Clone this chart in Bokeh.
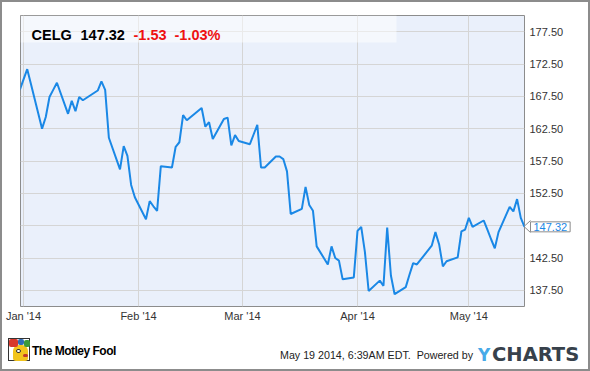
import pandas as pd
from bokeh.plotting import figure
from bokeh.layouts import column
from bokeh.models import (Range1d, FixedTicker, DatetimeTickFormatter, NumeralTickFormatter,
                          Label, BoxAnnotation, Div)
from bokeh.embed import file_html
from bokeh.resources import INLINE

# ---- data (CELG daily close) ----
dates = [
    "2013-12-31",
    "2014-01-02", "2014-01-03", "2014-01-06", "2014-01-07", "2014-01-08", "2014-01-09", "2014-01-10",
    "2014-01-13", "2014-01-14", "2014-01-15", "2014-01-16", "2014-01-17",
    "2014-01-21", "2014-01-22", "2014-01-23", "2014-01-24",
    "2014-01-27", "2014-01-28", "2014-01-29", "2014-01-30", "2014-01-31",
    "2014-02-03", "2014-02-04", "2014-02-05", "2014-02-06", "2014-02-07",
    "2014-02-10", "2014-02-11", "2014-02-12", "2014-02-13", "2014-02-14",
    "2014-02-18", "2014-02-19", "2014-02-20", "2014-02-21",
    "2014-02-24", "2014-02-25", "2014-02-26", "2014-02-27", "2014-02-28",
    "2014-03-03", "2014-03-04", "2014-03-05", "2014-03-06", "2014-03-07",
    "2014-03-10", "2014-03-11", "2014-03-12", "2014-03-13", "2014-03-14",
    "2014-03-17", "2014-03-18", "2014-03-19", "2014-03-20", "2014-03-21",
    "2014-03-24", "2014-03-25", "2014-03-26", "2014-03-27", "2014-03-28",
    "2014-03-31", "2014-04-01", "2014-04-02", "2014-04-03", "2014-04-04",
    "2014-04-07", "2014-04-08", "2014-04-09", "2014-04-10", "2014-04-11",
    "2014-04-14", "2014-04-15", "2014-04-16", "2014-04-17",
    "2014-04-21", "2014-04-22", "2014-04-23", "2014-04-24", "2014-04-25",
    "2014-04-28", "2014-04-29", "2014-04-30", "2014-05-01", "2014-05-02",
    "2014-05-05", "2014-05-06", "2014-05-07", "2014-05-08", "2014-05-09",
    "2014-05-12", "2014-05-13", "2014-05-14", "2014-05-15", "2014-05-16",
]
closes = [
    168.5,
    171.7, 169.4, 162.5, 164.3, 167.4, 168.5, 169.6,
    164.8, 166.8, 165.2, 167.4, 166.9,
    168.4, 169.8, 168.5, 161.1,
    156.2, 159.8, 158.3, 153.8, 151.9,
    148.5, 151.3, 150.5, 149.8, 156.7,
    156.5, 159.7, 160.4, 164.6, 163.8,
    165.7, 162.8, 163.5, 160.9,
    164.0, 164.2, 159.9, 161.5, 160.6,
    160.1, 161.6, 163.1, 156.5, 156.5,
    158.2, 158.2, 157.8, 155.9, 149.3,
    150.1, 153.5, 150.7, 149.8, 144.3,
    141.5, 144.3, 142.5, 142.1, 139.2,
    139.5, 146.7, 147.3, 143.4, 137.4,
    139.0, 138.2, 147.2, 139.8, 136.9,
    138.0, 139.9, 141.7, 141.5,
    144.4, 146.5, 144.6, 141.2, 142.0,
    142.6, 146.6, 146.9, 148.7, 147.3,
    148.3, 146.9, 145.4, 144.0, 146.5,
    150.4, 149.7, 151.6, 148.7, 147.32,
]
month_ticks = ["2014-01-01", "2014-02-01", "2014-03-01", "2014-04-01", "2014-05-01"]
price_ticks = [137.5, 142.5, 147.5, 152.5, 157.5, 162.5, 167.5, 172.5, 177.5]
ticker_name = "CELG"
last_price = "147.32"
change = "-1.53"
change_pct = "-1.03%"
stamp = "May 19 2014, 6:39AM EDT.&nbsp; Powered by"

x = pd.to_datetime(dates)
FONT = "Liberation Sans"
GREY = "#8c8c8c"

# small pointer of the last-price tag (drawn behind the transparent border area)
arrow_svg = ("url(\"data:image/svg+xml;utf8,<svg xmlns='http://www.w3.org/2000/svg' width='8' "
             "height='13'><polyline points='7.5,0.5 1,6.5 7.5,12.5' fill='white' "
             "stroke='%238c8c8c' stroke-width='1'/></svg>\")")

# ---------------- main chart ----------------
p = figure(width=590, height=330, x_axis_type="datetime",
           x_range=Range1d(pd.Timestamp("2013-12-31 04:30"), pd.Timestamp("2014-05-16")),
           y_range=Range1d(135, 180), y_axis_location="right",
           output_backend="svg", toolbar_location=None,
           min_border_left=20, min_border_right=66, min_border_top=15, min_border_bottom=24,
           styles={"background-color": "white",
                   "background-image": arrow_svg,
                   "background-repeat": "no-repeat",
                   "background-position": "523px 220px",
                   "box-shadow": f"inset 2px 0 0 0 {GREY}, inset -2px 0 0 0 {GREY}, "
                                 f"inset 0 2px 0 0 {GREY}"})

p.background_fill_color = "#eaf0fb"
p.border_fill_color = None
p.outline_line_color = GREY
p.outline_line_width = 1

tick_ms = [pd.Timestamp(t).timestamp() * 1000 for t in month_ticks]
xa = p.xaxis[0]
xa.ticker = FixedTicker(ticks=tick_ms)
fmt = "%b '%y"
xa.formatter = DatetimeTickFormatter(microseconds=fmt, milliseconds=fmt, seconds=fmt, minsec=fmt,
                                     minutes=fmt, hourmin=fmt, hours=fmt, days=fmt, months=fmt,
                                     years=fmt)
ya = p.yaxis[0]
ya.ticker = FixedTicker(ticks=price_ticks)
ya.formatter = NumeralTickFormatter(format="0.00")
ya.major_label_overrides = {147.5: ""}

for ax in (xa, ya):
    ax.axis_line_color = None
    ax.major_tick_line_color = None
    ax.minor_tick_line_color = None
    ax.major_tick_in = 0
    ax.major_tick_out = 0
    ax.minor_tick_in = 0
    ax.minor_tick_out = 0
    ax.major_label_text_font = FONT
    ax.major_label_text_font_size = "11px"
    ax.major_label_text_color = "#333333"
ya.major_label_standoff = 5
xa.major_label_standoff = 3

p.xgrid.grid_line_color = "#d5d5d5"
p.ygrid.grid_line_color = "#d5d5d5"

p.line(x, closes, line_color="#1a88e6", line_width=2)

CANVAS = dict(left_units="canvas", right_units="canvas", top_units="canvas", bottom_units="canvas")

# header band
p.add_layout(BoxAnnotation(left=20, right=396, top=15, bottom=42, fill_color="white",
                           fill_alpha=0.5, line_color=None, **CANVAS))


def canvas_label(x_, y_, text, color="black"):
    p.add_layout(Label(x=x_, y=y_, x_units="canvas", y_units="canvas", text=text,
                       text_color=color, text_font_size="14.5px", text_font_style="bold",
                       text_align="left", text_baseline="alphabetic", text_font=FONT))


canvas_label(31, 34, ticker_name)
canvas_label(80, 34, last_price)
canvas_label(133, 34, change, color="#ee1111")
canvas_label(174, 34, change_pct, color="#ee1111")

# last-price tag: in the (thin) top side panel so it is drawn outside the frame
p.add_layout(Label(x=x[-1], y=closes[-1], text=last_price, x_offset=6,
                   text_align="left", text_baseline="middle",
                   text_color="#1a88e6", text_font=FONT, text_font_size="11px",
                   background_fill_color="white", border_line_color=GREY,
                   padding=dict(left=3, right=3, top=1, bottom=1)), "above")

# ---------------- footer ----------------
def box(l, t, w, h, c, extra=""):
    return (f'<div style="position:absolute;left:{l}px;top:{t}px;width:{w}px;height:{h}px;'
            f'background:{c};{extra}"></div>')

icon = (box(8, 8, 22, 23, "#ffffff", "border:1px solid #333;")
        + box(13, 15, 15, 16, "#f2c41c", "border-radius:6px 6px 3px 3px;")
        + box(9, 9, 9, 8, "#d8382c", "border-radius:2px;")
        + box(18, 9, 6, 6, "#2f6db5", "border-radius:2px;")
        + box(24, 10, 6, 7, "#3a9a3a", "border-radius:2px;")
        + box(16, 19, 5, 4, "#ffffff", "border:1px solid #333;border-radius:3px;")
        + box(23, 24, 5, 3, "#c0392b", "border-radius:2px;"))

footer_html = (
    '<div style="position:relative;width:590px;height:41px;'
    "font-family:'Liberation Sans',Arial,sans-serif;\">"
    + icon
    + '<span style="position:absolute;left:32px;top:13px;font-size:12px;font-weight:bold;'
      'color:#000;line-height:16px;white-space:nowrap;letter-spacing:-0.5px;">The Motley Fool</span>'
    + '<span style="position:absolute;left:280px;top:18px;font-size:10.7px;color:#222;'
      f'line-height:14px;white-space:nowrap;">{stamp}</span>'
    + "<span style=\"position:absolute;left:478px;top:13px;font-size:17px;font-weight:bold;"
      "font-family:'DejaVu Sans';color:#47aae8;line-height:24px;\">Y</span>"
    + "<span style=\"position:absolute;left:492px;top:12px;font-size:19.5px;font-weight:bold;"
      "font-family:'DejaVu Sans';color:#37414b;line-height:26px;\">CHARTS</span>"
    + "</div>"
)

f = Div(text=footer_html, width=590, height=41,
        styles={"background-color": "white", "margin": "0", "padding": "0",
                "box-shadow": f"inset 2px 0 0 0 {GREY}, inset -2px 0 0 0 {GREY}, "
                              f"inset 0 -2px 0 0 {GREY}"})

layout = column(p, f, spacing=0)

open("out.html", "w").write(file_html(layout, INLINE))
